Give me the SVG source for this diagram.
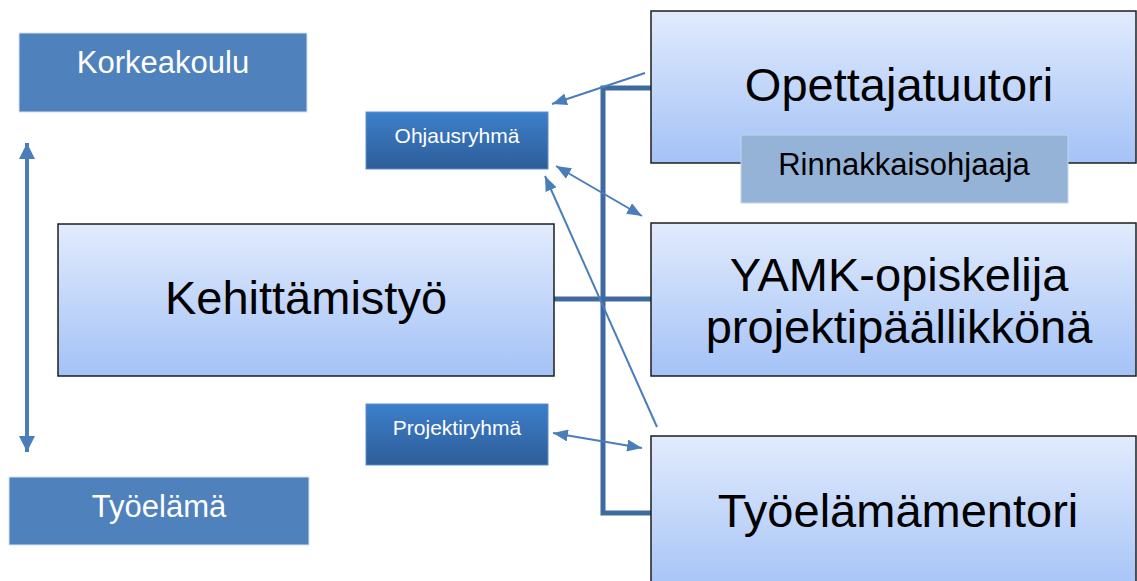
<svg xmlns="http://www.w3.org/2000/svg" width="1137" height="581" viewBox="0 0 1137 581">
<style>
text{font-family:"Liberation Sans",Arial,sans-serif;text-anchor:middle}
.big{fill:url(#gBig);stroke:#1e1e1e;stroke-width:1.5}
.flat{fill:#4f81bd;stroke:#d6e2f0;stroke-width:1}
.dark{fill:url(#gDark);stroke:#5d8fcf;stroke-width:1}
.rinn{fill:#95b3d7;stroke:#c4d5ea;stroke-width:1}
.tBig{font-size:47px;fill:#000}
.tMid{font-size:31px;fill:#fff}
.tSm{font-size:21px;fill:#fff}
.thin{stroke:#4a7ebb;stroke-width:2;fill:none}
.thick{stroke:#3e6a9f;stroke-width:5;fill:none}
</style>
<defs>
<linearGradient id="gBig" x1="0" y1="0" x2="0" y2="1">
<stop offset="0" stop-color="#e1ebfd"/>
<stop offset="1" stop-color="#a4c2f6"/>
</linearGradient>
<linearGradient id="gDark" x1="0" y1="0" x2="0" y2="1">
<stop offset="0" stop-color="#3d7fcb"/>
<stop offset="1" stop-color="#2d5d98"/>
</linearGradient>
<marker id="ah" viewBox="0 0 15 12" refX="15" refY="6" markerWidth="15" markerHeight="12" markerUnits="userSpaceOnUse" orient="auto-start-reverse">
<path d="M0,0 L15,6 L0,12 z" fill="#4a7ebb"/>
</marker>
<marker id="ahV" viewBox="0 0 16 16" refX="16" refY="8" markerWidth="16" markerHeight="16" markerUnits="userSpaceOnUse" orient="auto-start-reverse">
<path d="M0,0 L16,8 L0,16 z" fill="#4a7ebb"/>
</marker>
</defs>
<g id="connectors">
<path class="thick" d="M554,299 H651 M651,88 H603 V513 H651"/>
<line class="thin" x1="645" y1="73" x2="552" y2="104" marker-end="url(#ah)"/>
<line class="thin" x1="556" y1="166" x2="642" y2="216" marker-start="url(#ah)" marker-end="url(#ah)"/>
<line class="thin" x1="657" y1="427" x2="545" y2="176" marker-end="url(#ah)"/>
<line class="thin" x1="553" y1="433" x2="642" y2="448" marker-start="url(#ah)" marker-end="url(#ah)"/>
<line x1="27" y1="143" x2="27" y2="452" stroke="#4a7ebb" stroke-width="4" marker-start="url(#ahV)" marker-end="url(#ahV)"/>
</g>
<g id="korkeakoulu">
<rect class="flat" x="19" y="33" width="288" height="79"/>
<text class="tMid" x="163" y="73">Korkeakoulu</text>
</g>
<g id="tyoelama">
<rect class="flat" x="9" y="477" width="300" height="68"/>
<text class="tMid" x="159" y="517">Työelämä</text>
</g>
<g id="ohjausryhma">
<rect class="dark" x="366" y="112" width="182" height="57"/>
<text class="tSm" x="457" y="143">Ohjausryhmä</text>
</g>
<g id="projektiryhma">
<rect class="dark" x="366" y="404" width="182" height="61"/>
<text class="tSm" x="457" y="435">Projektiryhmä</text>
</g>
<g id="kehittamistyo">
<rect class="big" x="58" y="224" width="496" height="152"/>
<text class="tBig" x="306" y="314">Kehittämistyö</text>
</g>
<g id="opettajatuutori">
<rect class="big" x="651" y="11" width="485" height="152"/>
<text class="tBig" x="899" y="101">Opettajatuutori</text>
</g>
<g id="rinnakkaisohjaaja">
<rect class="rinn" x="741" y="135" width="327" height="68"/>
<text x="904" y="175" style="font-size:31px;fill:#000">Rinnakkaisohjaaja</text>
</g>
<g id="yamk">
<rect class="big" x="651" y="223" width="485" height="153"/>
<text class="tBig" x="899" y="291">YAMK-opiskelija</text>
<text class="tBig" x="899" y="343">projektipäällikkönä</text>
</g>
<g id="tyoelamamentori">
<rect class="big" x="651" y="436" width="485" height="160"/>
<text class="tBig" x="898" y="527">Työelämämentori</text>
</g>
</svg>
